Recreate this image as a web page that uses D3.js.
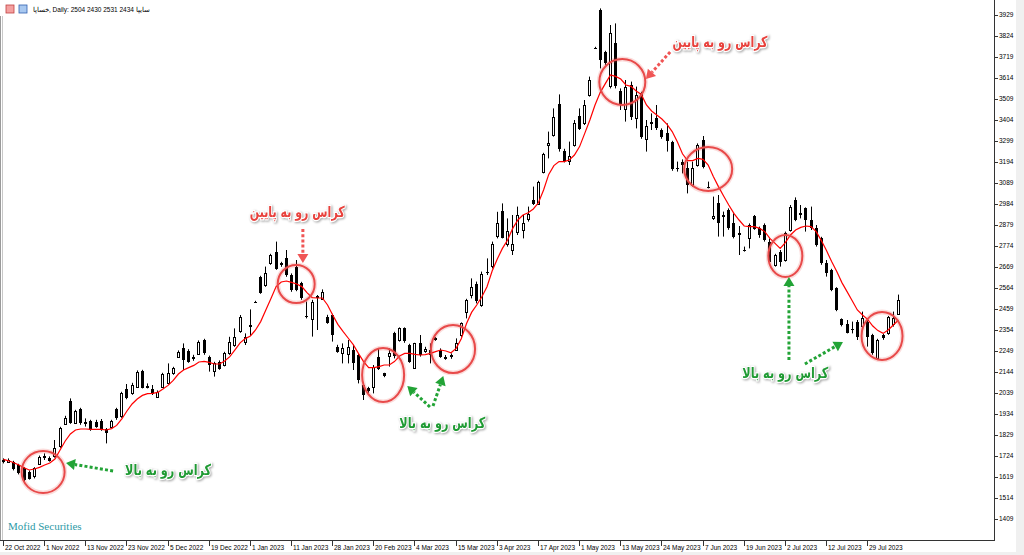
<script src="https://d3js.org/d3.v7.min.js"></script>

<svg id="chart"></svg>

<style>
body {
    margin: 0;
    padding: 0;
    background-color: #f0f0f0;
    overflow: hidden;
}
#chart { display: block; }
.axis-text { font-family: 'Liberation Sans', Arial, sans-serif; font-size: 6.5px; fill: #000; }
.note {
    font-family: 'DejaVu Sans', sans-serif;
    font-weight: bold;
    font-size: 15px;
    filter: drop-shadow(1px 1px 1px rgba(0,0,0,0.35));
}
</style>

<script>
// daily candles (index 0 = 22 Oct 2022)
const open  = [1704,1696,1692,1679,1662,1646,1621,1687,1724,1716,1721,1771,1887,1999,1891,1959,1896,1899,1896,1899,
               1859,1871,1959,1921,2057,2037,2071,2151,2074,2057,2021,2071,2087,2137,2221,2262,2251,2221,2237,2304,
               2221,2146,2196,2179,2237,2279,2346,2296,2379,2496,2621,2579,2687,2746,2687,2712,2629,2671,2587,2426,
               2412,2524,2512,2421,2429,2271,2237,2237,2254,2229,2079,2062,2071,2221,2137,2221,2337,2304,2362,2279,
               2162,2291,2250,2254,2312,2254,2221,2229,2254,2329,2446,2529,2582,2479,2646,2671,2821,2951,2787,2754,
               2846,2851,2912,3004,2984,3146,3276,3329,3484,3251,3199,3279,3426,3387,3529,3766,3954,3742,3571,3787,
               3549,3462,3579,3412,3537,3312,3392,3412,3354,3337,3292,3162,3196,3162,3079,3179,3304,3068,2912,2987,
               2929,2954,2891,2837,2756,2812,2926,2862,2879,2796,2679,2746,2704,2854,3004,2941,2962,2904,2862,2812,
               2687,2654,2562,2407,2384,2357,2396,2371,2396,2329,2212,2329,2337,2384,2434];
const high  = [1712,1712,1700,1685,1668,1652,1668,1726,1737,1722,1804,1870,1925,2012,1955,1965,1912,1905,1905,1909,
               1864,1905,1965,2045,2084,2090,2152,2155,2087,2079,2052,2140,2187,2170,2252,2287,2258,2230,2302,2310,
               2226,2195,2202,2245,2320,2362,2429,2337,2457,2500,2625,2671,2735,2796,2695,2754,2637,2704,2595,2496,
               2505,2529,2557,2430,2435,2280,2287,2304,2279,2237,2087,2070,2179,2262,2140,2262,2345,2367,2367,2285,
               2290,2329,2270,2287,2318,2262,2229,2237,2312,2392,2510,2612,2596,2646,2712,2796,2945,2987,2912,2929,
               2971,2929,2971,3071,3100,3240,3346,3462,3532,3260,3296,3404,3462,3504,3621,3770,3962,3750,3879,3887,
               3562,3604,3596,3571,3545,3404,3437,3479,3362,3387,3300,3196,3207,3196,3196,3287,3324,3096,3021,3029,
               2946,2962,2937,2874,2771,2887,2929,2871,2887,2812,2735,2754,2846,2979,3017,2979,2967,2971,2879,2820,
               2704,2660,2568,2412,2404,2396,2404,2446,2404,2335,2310,2335,2424,2446,2531];
const low   = [1687,1690,1652,1632,1596,1606,1612,1682,1704,1696,1716,1765,1880,1885,1885,1880,1871,1850,1865,1850,
               1787,1866,1905,1915,2008,2030,2065,2062,2062,2029,2016,2066,2082,2130,2215,2154,2190,2200,2230,2230,
               2146,2121,2155,2172,2230,2270,2340,2279,2324,2490,2535,2570,2680,2655,2670,2620,2545,2548,2505,2412,
               2321,2354,2505,2385,2296,2240,2187,2187,2154,2087,2004,2040,2037,2154,2118,2171,2212,2296,2290,2190,
               2160,2221,2240,2187,2300,2215,2205,2210,2250,2320,2412,2512,2487,2470,2629,2662,2812,2812,2771,2729,
               2829,2812,2896,2979,2979,3137,3212,3321,3246,3192,3179,3271,3354,3379,3521,3760,3662,3680,3562,3562,
               3454,3396,3404,3362,3310,3246,3354,3354,3310,3246,3150,3146,3137,3037,3071,3171,3162,3062,2904,2821,
               2821,2855,2812,2729,2746,2762,2855,2815,2796,2687,2671,2671,2696,2846,2898,2912,2846,2854,2771,2680,
               2621,2548,2448,2372,2337,2337,2304,2365,2271,2230,2204,2305,2330,2371,2430];
const close = [1692,1704,1657,1637,1604,1612,1662,1721,1714,1701,1762,1862,1916,1891,1949,1887,1884,1854,1871,1854,
               1837,1899,1912,2037,2012,2079,2146,2067,2066,2034,2046,2134,2137,2162,2246,2204,2196,2209,2296,2237,
               2179,2187,2162,2237,2292,2321,2417,2321,2371,2494,2542,2637,2729,2662,2679,2629,2554,2554,2512,2421,
               2496,2512,2546,2391,2329,2246,2262,2271,2187,2104,2029,2046,2171,2162,2124,2237,2221,2362,2296,2196,
               2287,2229,2258,2229,2304,2221,2212,2221,2287,2387,2504,2571,2496,2632,2640,2782,2887,2817,2851,2782,
               2929,2887,2936,2984,3092,3234,3287,3417,3259,3199,3226,3387,3359,3479,3604,3764,3704,3687,3837,3571,
               3479,3571,3421,3529,3316,3376,3396,3362,3317,3296,3159,3159,3179,3079,3162,3279,3171,3064,2924,2887,
               2921,2862,2821,2829,2752,2879,2862,2829,2804,2696,2729,2696,2837,2971,2904,2929,2904,2862,2779,2687,
               2637,2554,2454,2379,2341,2351,2321,2412,2321,2237,2304,2312,2417,2412,2504];
// red moving average line
const maLine = [1707,1700,1690,1679,1665,1654,1659,1667,1679,1689,1709,1754,1799,1834,1854,1859,1859,1857,1857,1857,
                1854,1861,1877,1909,1949,1984,2009,2027,2036,2037,2042,2059,2077,2102,2134,2154,2166,2177,2194,2197,
                2192,2184,2184,2199,2221,2255,2290,2311,2324,2354,2396,2454,2512,2571,2594,2599,2592,2584,2571,2541,
                2516,2514,2514,2479,2429,2382,2347,2314,2281,2237,2196,2166,2166,2171,2179,2179,2196,2224,2237,2237,
                2232,2229,2231,2237,2246,2254,2249,2240,2262,2310,2385,2442,2479,2520,2570,2649,2709,2762,2804,2862,
                2904,2929,2940,2959,2990,3054,3132,3176,3196,3196,3204,3229,3271,3337,3404,3479,3541,3586,3629,3622,
                3609,3579,3572,3549,3532,3479,3449,3429,3409,3382,3346,3295,3235,3201,3201,3212,3207,3179,3121,3071,
                3024,2979,2937,2904,2874,2871,2871,2862,2846,2812,2787,2762,2791,2829,2854,2867,2874,2871,2846,2801,
                2751,2696,2646,2591,2546,2500,2454,2429,2407,2374,2351,2337,2354,2379,2404];

const dateLabels = ["22 Oct 2022","1 Nov 2022","13 Nov 2022","23 Nov 2022","5 Dec 2022","19 Dec 2022","1 Jan 2023",
                    "11 Jan 2023","28 Jan 2023","20 Feb 2023","4 Mar 2023","15 Mar 2023","3 Apr 2023","17 Apr 2023",
                    "1 May 2023","13 May 2023","24 May 2023","7 Jun 2023","19 Jun 2023","2 Jul 2023","12 Jul 2023","29 Jul 2023"];
const dateStep = 8;
const priceTicks = [3929,3824,3719,3614,3509,3404,3299,3194,3089,2984,2879,2774,2669,2564,2459,2354,2249,2144,2039,1934,1829,1724,1619,1514,1409];

// annotations, in bar index / price units
const circles = [
    {i:7.8, p:1644, rx:21.5, ry:21},
    {i:57.0, p:2584, rx:18.5, ry:19},
    {i:73.9, p:2129, rx:21, ry:27},
    {i:87.5, p:2259, rx:22, ry:24},
    {i:120.4, p:3594, rx:23, ry:23},
    {i:137.1, p:3159, rx:24, ry:22},
    {i:152.1, p:2724, rx:17, ry:21},
    {i:170.9, p:2324, rx:20.5, ry:24}
];
const notes = [
    {i:32.1, p:1654, text:"کراس رو به بالا", up:true, w:86},
    {i:57.2, p:2944, text:"کراس رو به پایین", up:false, w:95},
    {i:85.4, p:1889, text:"کراس رو به بالا", up:true, w:86},
    {i:139.4, p:3794, text:"کراس رو به پایین", up:false, w:95},
    {i:152.1, p:2139, text:"کراس رو به بالا", up:true, w:86}
];
const arrows = [
    {i1:21.4, p1:1649, i2:12.25, p2:1689, up:true},
    {i1:58.3, p1:2859, i2:58.3, p2:2689, up:false},
    {i1:83.0, p1:1969, i2:78.6, p2:2074, up:true},
    {i1:83.6, p1:1974, i2:85.6, p2:2124, up:true},
    {i1:129.7, p1:3744, i2:125.0, p2:3609, up:false},
    {i1:152.8, p1:2204, i2:152.8, p2:2619, up:true},
    {i1:155.9, p1:2184, i2:163.3, p2:2294, up:true}
];

const W = 1024, H = 555;
const green = "#1f9a33", red = "#e8413c";

const svg = d3.select("#chart").attr("width", W).attr("height", H);
svg.append("rect").attr("width", 1016).attr("height", 552).attr("fill", "#fff");

const x = d3.scaleLinear().domain([0, close.length - 1]).range([3, 898]);
const y = d3.scaleLinear().domain([priceTicks[priceTicks.length - 1], priceTicks[0]]).range([519, 15]);
const idx = d3.range(close.length);
const px = i => Math.round(x(i));

// title bar
svg.append("rect").attr("x", 6).attr("y", 5).attr("width", 8).attr("height", 8).attr("fill", "#f4a0a0").attr("stroke", "#c04040").attr("stroke-width", 0.8);
svg.append("rect").attr("x", 19).attr("y", 5).attr("width", 8).attr("height", 8).attr("fill", "#a8c8f0").attr("stroke", "#3060b0").attr("stroke-width", 0.8);
svg.append("text").attr("class", "axis-text").attr("x", 33).attr("y", 12).attr("direction", "ltr")
    .text("خساپا, Daily:  2504 2430 2531 2434  سایپا");

// frame
svg.append("line").attr("x1", 0.5).attr("x2", 0.5).attr("y1", 16).attr("y2", 540).attr("stroke", "#9a9a9a");
svg.append("line").attr("x1", 2.5).attr("x2", 2.5).attr("y1", 16).attr("y2", 540).attr("stroke", "#c8c8c8");

// candles
const g = svg.append("g");
g.selectAll(".wick").data(idx).join("line")
    .attr("class", "wick")
    .attr("x1", i => px(i) + 0.5).attr("x2", i => px(i) + 0.5)
    .attr("y1", i => y(high[i])).attr("y2", i => y(low[i]))
    .attr("stroke", "#000").attr("stroke-width", 1);

g.selectAll(".body").data(idx).join("rect")
    .attr("class", "body")
    .attr("x", i => close[i] >= open[i] ? px(i) - 0.5 : px(i) - 1)
    .attr("width", i => close[i] >= open[i] ? 2 : 3)
    .attr("y", i => {
        const t = y(Math.max(open[i], close[i]));
        return close[i] >= open[i] ? Math.round(t) + 0.5 : Math.round(t);
    })
    .attr("height", i => Math.max(1, Math.round(Math.abs(y(open[i]) - y(close[i])))))
    .attr("fill", i => close[i] >= open[i] ? "#fff" : "#000")
    .attr("stroke", i => close[i] >= open[i] ? "#000" : "none")
    .attr("stroke-width", 1);

// moving average
svg.append("path").datum(idx)
    .attr("d", d3.line().x(i => x(i) + 0.5).y(i => y(maLine[i])))
    .attr("fill", "none").attr("stroke", "#ff0000").attr("stroke-width", 1.2);

// right price axis
svg.append("line").attr("x1", 994.5).attr("x2", 994.5).attr("y1", 0).attr("y2", 540).attr("stroke", "#333");
const yt = svg.append("g");
yt.selectAll("line").data(priceTicks).join("line")
    .attr("x1", 994).attr("x2", 998).attr("y1", d => Math.round(y(d)) + 0.5).attr("y2", d => Math.round(y(d)) + 0.5)
    .attr("stroke", "#333");
yt.selectAll("text").data(priceTicks).join("text")
    .attr("class", "axis-text").attr("x", 999).attr("y", d => y(d)).attr("dy", "0.35em").text(d => d);

// bottom date axis
svg.append("line").attr("x1", 0).attr("x2", 995).attr("y1", 540.5).attr("y2", 540.5).attr("stroke", "#333");
const xt = svg.append("g");
xt.selectAll("line").data(dateLabels).join("line")
    .attr("x1", (d, k) => px(k * dateStep) + 0.5).attr("x2", (d, k) => px(k * dateStep) + 0.5)
    .attr("y1", 541).attr("y2", 546).attr("stroke", "#333");
xt.selectAll("text").data(dateLabels).join("text")
    .attr("class", "axis-text").attr("x", (d, k) => px(k * dateStep) + 2).attr("y", 550).text(d => d);

svg.append("text").attr("x", 8).attr("y", 530)
    .style("font-family", "'Liberation Serif', serif").style("font-size", "11px").attr("fill", "#2c9aa6")
    .text("Mofid Securities");

// annotation circles
const ann = svg.append("g");
ann.selectAll(".halo").data(circles).join("ellipse")
    .attr("class", "halo")
    .attr("cx", d => x(d.i)).attr("cy", d => y(d.p)).attr("rx", d => d.rx).attr("ry", d => d.ry)
    .attr("fill", "none").attr("stroke", "rgba(232,65,60,0.18)").attr("stroke-width", 5);
ann.selectAll(".ring").data(circles).join("ellipse")
    .attr("class", "ring")
    .attr("cx", d => x(d.i)).attr("cy", d => y(d.p)).attr("rx", d => d.rx).attr("ry", d => d.ry)
    .attr("fill", "none").attr("stroke", "#e84a4a").attr("stroke-width", 2);

// dotted arrows
arrows.forEach(a => {
    const x1 = x(a.i1), y1 = y(a.p1), x2 = x(a.i2), y2 = y(a.p2);
    const col = a.up ? "#22a336" : "#f05555";
    const ang = Math.atan2(y2 - y1, x2 - x1);
    const len = Math.hypot(x2 - x1, y2 - y1);
    const head = 9;
    ann.append("line")
        .attr("x1", x1).attr("y1", y1)
        .attr("x2", x1 + Math.cos(ang) * (len - head)).attr("y2", y1 + Math.sin(ang) * (len - head))
        .attr("stroke", col).attr("stroke-width", 3).attr("stroke-dasharray", "3,2.2");
    const bx = x2 - Math.cos(ang) * head, by = y2 - Math.sin(ang) * head;
    const nx = -Math.sin(ang) * 5.5, ny = Math.cos(ang) * 5.5;
    ann.append("path")
        .attr("d", `M${x2},${y2}L${bx + nx},${by + ny}L${bx - nx},${by - ny}Z`)
        .attr("fill", col);
});

// labels
ann.selectAll(".note").data(notes).join("text")
    .attr("class", "note")
    .attr("x", d => x(d.i)).attr("y", d => y(d.p)).attr("dy", "0.35em")
    .attr("text-anchor", "middle").attr("direction", "rtl")
    .attr("textLength", d => d.w).attr("lengthAdjust", "spacingAndGlyphs")
    .attr("fill", d => d.up ? green : red)
    .attr("stroke", "#fff").attr("stroke-width", 2.5).attr("paint-order", "stroke")
    .text(d => d.text);
</script>
